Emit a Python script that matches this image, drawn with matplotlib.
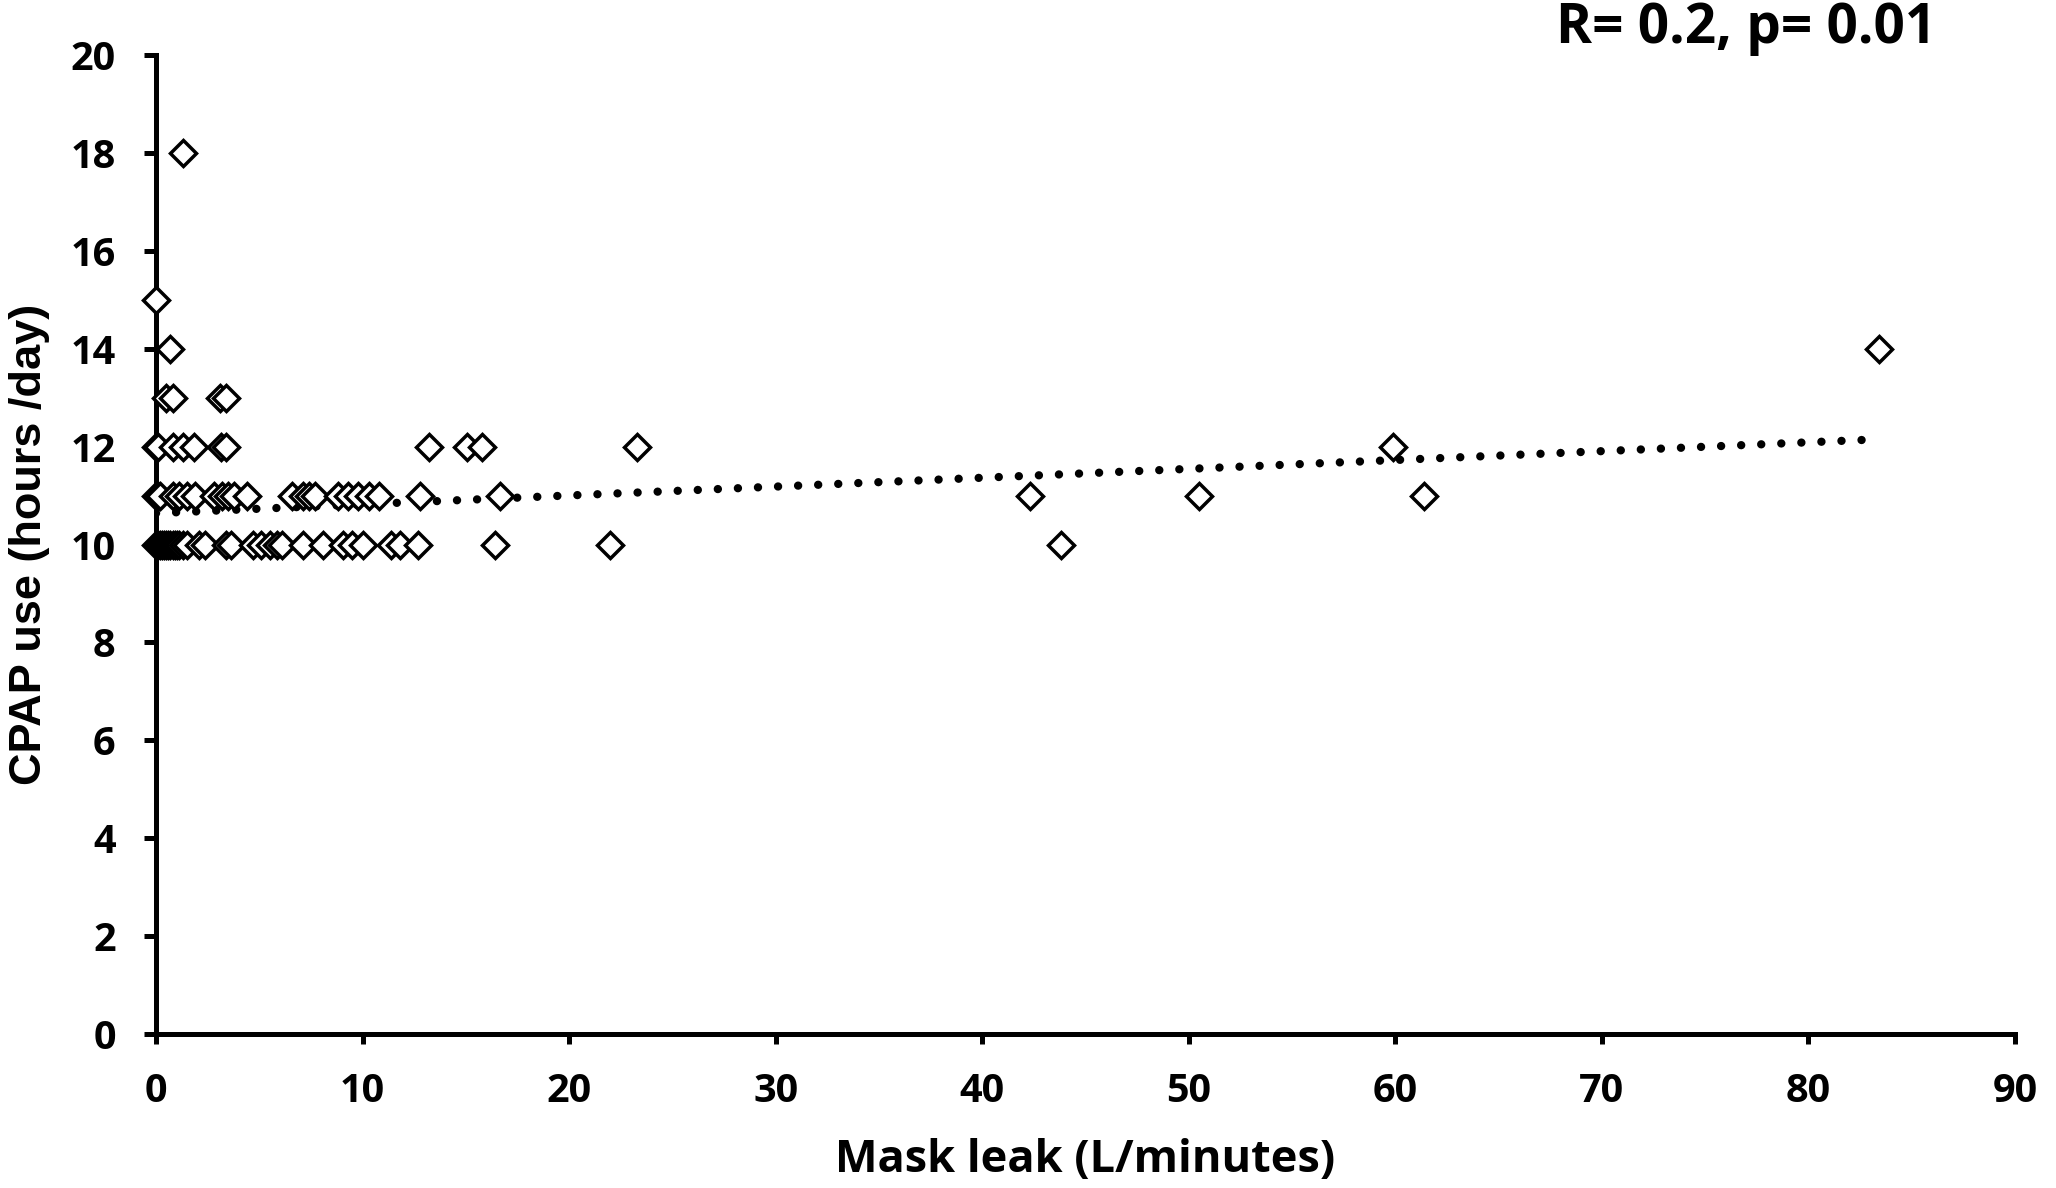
import numpy as np
import matplotlib
matplotlib.use("Agg")
from matplotlib import pyplot as plt

# mask leak (L/min) and CPAP use (hours/day)
leak_18 = [1.3]
leak_15 = [0.0]
leak_14 = [0.7, 83.4]
leak_13 = [0.5, 0.8, 3.1, 3.4]
leak_12 = [0.0, 0.1, 0.8, 1.3, 1.85, 3.15, 3.4, 13.2, 15.05, 15.8, 23.3, 59.9]
leak_11 = [0.0, 0.1, 0.2, 0.8, 1.1, 1.5, 1.9, 2.8, 3.2, 3.5, 3.8, 4.4,
           6.6, 7.1, 7.4, 7.7, 8.8, 9.3, 9.8, 10.3, 10.8, 12.8, 16.65,
           42.3, 50.5, 61.4]
leak_10 = [0.0, 0.05, 0.1, 0.2, 0.3, 0.4, 0.5, 0.6, 0.7, 0.8, 0.9, 1.0,
           1.1, 1.3, 1.5, 2.1, 2.35, 3.4, 3.65, 4.7, 5.1, 5.5, 5.85, 6.1,
           7.1, 8.1, 9.05, 9.5, 10.0, 11.4, 11.8, 12.7, 16.4, 22.0, 43.8]

# trend line (y = slope * x + intercept)
trend_slope = 0.0181
trend_intercept = 10.64

stats_text = "R= 0.2, p= 0.01"


def build():
    x = []
    y = []
    for hours, leaks in [(18, leak_18), (15, leak_15), (14, leak_14),
                         (13, leak_13), (12, leak_12), (11, leak_11),
                         (10, leak_10)]:
        x += leaks
        y += [hours] * len(leaks)
    return np.array(x), np.array(y)


x, y = build()

fig = plt.figure(figsize=(20.56, 11.88), dpi=100)
ax = fig.add_axes([156 / 2056, 1 - 1034 / 1188, 1859 / 2056, 979 / 1188])

ax.plot(x, y, linestyle="none", marker="D", markersize=13.5,
        markerfacecolor="white", markeredgecolor="black", markeredgewidth=2.5,
        clip_on=False, zorder=3)

tx = np.array([x.min(), x.max()])
ax.plot(tx, trend_slope * tx + trend_intercept, color="black", linewidth=6,
        linestyle=(0, (0.01, 2.4)), dash_capstyle="round", zorder=2)

ax.set_xlim(0, 90)
ax.set_ylim(0, 20)
ax.set_xticks(np.arange(0, 91, 10))
ax.set_yticks(np.arange(0, 21, 2))

for side in ["top", "right"]:
    ax.spines[side].set_visible(False)
for side in ["left", "bottom"]:
    ax.spines[side].set_linewidth(3.6)
ax.tick_params(axis="y", direction="out", length=9, width=3.6, pad=20)
ax.tick_params(axis="x", direction="out", length=7, width=3.6, pad=20)

for lab in ax.get_xticklabels() + ax.get_yticklabels():
    lab.set_fontfamily("Open Sans")
    lab.set_fontweight("bold")
    lab.set_fontsize(28.5)

ax.set_xlabel("Mask leak (L/minutes)", fontfamily="Open Sans",
              fontweight="bold", fontsize=32.5)
ax.xaxis.set_label_coords(0.5, -0.129)
ax.xaxis.label.set_verticalalignment("center")

ax.set_ylabel("CPAP use (hours /day)", fontfamily="Liberation Sans",
              fontweight="bold", fontsize=32.5)
ax.yaxis.set_label_coords(-0.0683, 0.5)
ax.yaxis.label.set_verticalalignment("center")

fig.text(1936 / 2056, 1 - 29 / 1188, stats_text, ha="right", va="center",
         fontfamily="Open Sans", fontweight="bold", fontsize=39.5)

fig.savefig("out.png", dpi=100, facecolor="white")
